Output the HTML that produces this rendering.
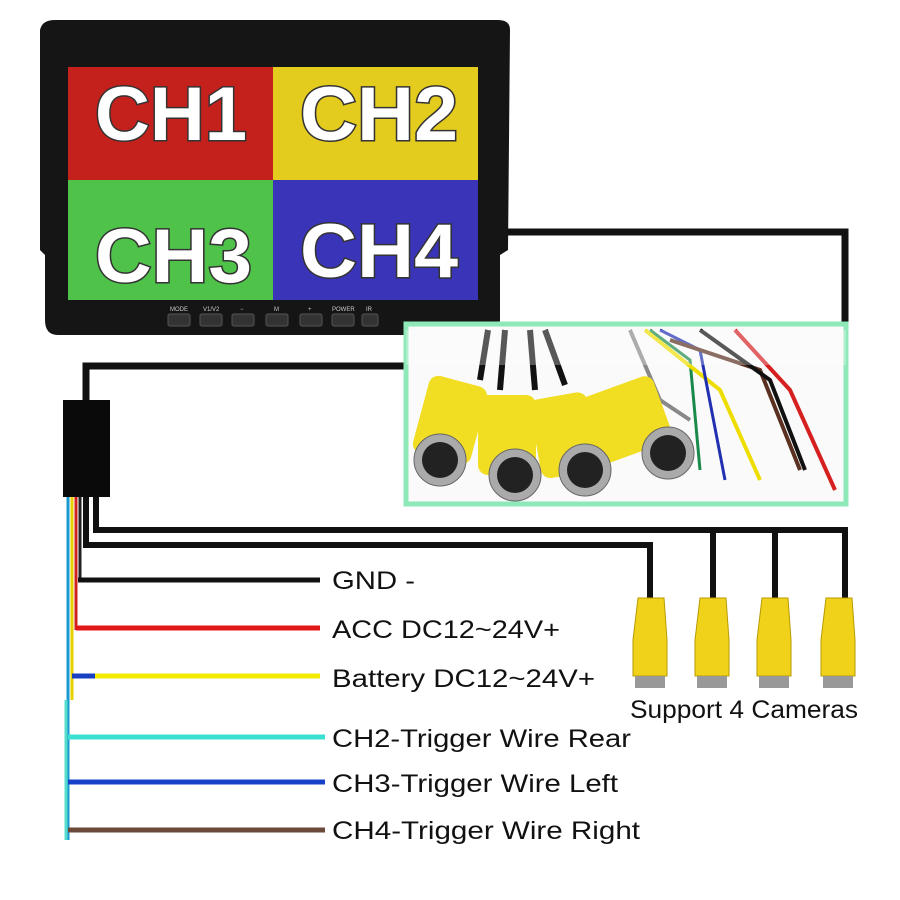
<!DOCTYPE html>
<html><head><meta charset="utf-8"><style>
body{margin:0;background:#fff;}
svg{display:block}
text{font-family:"Liberation Sans",sans-serif;}
</style></head><body>
<svg width="900" height="900" viewBox="0 0 900 900" xmlns="http://www.w3.org/2000/svg">
<rect width="900" height="900" fill="#fff"/>
<path d="M505 232 H845 V330" fill="none" stroke="#111" stroke-width="7"/>
<path d="M40 30 Q42 20 55 20 H498 Q510 20 510 30 L508 250 L500 255 V320 Q500 335 485 335 H58 Q45 335 45 320 V255 L40 250 Z" fill="#151515"/>
<rect x="68" y="67" width="205" height="113" fill="#c4201c"/>
<rect x="273" y="67" width="205" height="113" fill="#e3cc1e"/>
<rect x="68" y="180" width="205" height="120" fill="#4fc24a"/>
<rect x="273" y="180" width="205" height="120" fill="#3a35b8"/>
<g font-weight="bold" font-size="76" fill="#fff" stroke="#333" stroke-width="3" paint-order="stroke" lengthAdjust="spacingAndGlyphs">
<text x="95" y="140" textLength="152" lengthAdjust="spacingAndGlyphs">CH1</text><text x="300" y="140" textLength="158" lengthAdjust="spacingAndGlyphs">CH2</text>
<text x="95" y="282" textLength="157" lengthAdjust="spacingAndGlyphs">CH3</text><text x="300" y="277" textLength="158" lengthAdjust="spacingAndGlyphs">CH4</text>
</g>
<g fill="#333" stroke="#555"><rect x="168" y="314" width="22" height="12" rx="2"/><rect x="200" y="314" width="22" height="12" rx="2"/><rect x="232" y="314" width="22" height="12" rx="2"/><rect x="266" y="314" width="22" height="12" rx="2"/><rect x="300" y="314" width="22" height="12" rx="2"/><rect x="332" y="314" width="22" height="12" rx="2"/><rect x="362" y="314" width="16" height="12" rx="2"/></g>
<g font-size="6" fill="#ccc"><text x="170" y="311">MODE</text><text x="203" y="311">V1/V2</text><text x="240" y="311">−</text><text x="274" y="311">M</text><text x="308" y="311">+</text><text x="332" y="311">POWER</text><text x="366" y="311">IR</text></g>
<path d="M405 366 H86 V400" fill="none" stroke="#111" stroke-width="7"/>
<path d="M96 497 V530 H845 V600" fill="none" stroke="#111" stroke-width="6"/>
<path d="M86 497 V545 H650 V600 M713 545 V600 M775 545 V600" fill="none" stroke="#111" stroke-width="6"/>
<path d="M713 545 V530 M775 545 V530" fill="none" stroke="#111" stroke-width="6"/>
<g fill="#f0d21a" stroke="#b89a00" stroke-width="1">
<path d="M638 598 H664 L667 640 V676 H633 V640 Z"/><path d="M700 598 H726 L729 640 V676 H695 V640 Z"/><path d="M762 598 H788 L791 640 V676 H757 V640 Z"/><path d="M826 598 H852 L855 640 V676 H821 V640 Z"/>
</g>
<g fill="#999"><rect x="635" y="676" width="30" height="12"/><rect x="697" y="676" width="30" height="12"/><rect x="759" y="676" width="30" height="12"/><rect x="823" y="676" width="30" height="12"/></g>
<text x="630" y="718" font-size="25" fill="#111" textLength="228" lengthAdjust="spacingAndGlyphs">Support 4 Cameras</text>
<rect x="406" y="324" width="440" height="180" fill="#fafafa" stroke="#8ee8b8" stroke-width="5"/>
<g stroke-width="6" fill="none">
<path d="M488 330 L480 380" stroke="#111"/><path d="M505 330 L500 390" stroke="#111"/><path d="M530 330 L535 390" stroke="#111"/><path d="M545 330 L565 385" stroke="#111"/>
<path d="M630 330 L660 400 L690 420" stroke="#888" stroke-width="4"/>
<path d="M650 330 L690 360 L700 470" stroke="#1a8a4a" stroke-width="3"/>
<path d="M645 330 L720 390 L760 480" stroke="#eedd00" stroke-width="4"/>
<path d="M660 330 L700 350 L725 480" stroke="#2030b0" stroke-width="3"/>
<path d="M670 340 L760 370 L800 470" stroke="#5a3020" stroke-width="4"/>
<path d="M700 330 L770 380 L805 470" stroke="#111" stroke-width="4"/>
<path d="M735 330 L790 390 L835 490" stroke="#d62020" stroke-width="4"/>
</g>
<g fill="#f1dd22"><rect x="420" y="380" width="60" height="80" rx="10" transform="rotate(15 450 420)"/><rect x="478" y="395" width="58" height="80" rx="10"/><rect x="535" y="395" width="58" height="80" rx="10" transform="rotate(-10 565 435)"/><rect x="585" y="385" width="80" height="70" rx="10" transform="rotate(-20 625 420)"/></g>
<g fill="#aaa" stroke="#666"><circle cx="440" cy="460" r="26"/><circle cx="515" cy="475" r="26"/><circle cx="585" cy="470" r="26"/><circle cx="668" cy="453" r="26"/></g>
<g fill="#222"><circle cx="440" cy="460" r="18"/><circle cx="515" cy="475" r="18"/><circle cx="585" cy="470" r="18"/><circle cx="668" cy="453" r="18"/></g>
<rect x="406" y="330" width="440" height="35" fill="#fff" opacity="0.3"/>
<rect x="63" y="400" width="47" height="97" fill="#0a0a0a"/>
<path d="M68 497 V840" stroke="#1b9ad0" stroke-width="3"/>
<path d="M72 497 V700" stroke="#e8d000" stroke-width="3"/>
<path d="M76 497 V630" stroke="#d02020" stroke-width="3"/>
<path d="M80 497 V580" stroke="#222" stroke-width="3"/>
<path d="M66 700 V840" stroke="#55ddcc" stroke-width="3"/>
<path d="M78 580 H320" stroke="#111" stroke-width="5"/>
<path d="M76 628 H320" stroke="#e01818" stroke-width="5"/>
<path d="M72 676 H95" stroke="#1840c0" stroke-width="5"/>
<path d="M95 676 H320" stroke="#f4ea00" stroke-width="5"/>
<path d="M68 737 H325" stroke="#3be0d0" stroke-width="5"/>
<path d="M68 782 H325" stroke="#1840c8" stroke-width="5"/>
<path d="M68 830 H325" stroke="#6b4a3a" stroke-width="5"/>
<g font-size="25" fill="#111">
<text x="332" y="589" textLength="83" lengthAdjust="spacingAndGlyphs">GND -</text>
<text x="332" y="638" textLength="228" lengthAdjust="spacingAndGlyphs">ACC DC12~24V+</text>
<text x="332" y="687" textLength="263" lengthAdjust="spacingAndGlyphs">Battery DC12~24V+</text>
<text x="332" y="747" textLength="299" lengthAdjust="spacingAndGlyphs">CH2-Trigger Wire Rear</text>
<text x="332" y="792" textLength="286" lengthAdjust="spacingAndGlyphs">CH3-Trigger Wire Left</text>
<text x="332" y="839" textLength="308" lengthAdjust="spacingAndGlyphs">CH4-Trigger Wire Right</text>
</g>
</svg>
</body></html>
